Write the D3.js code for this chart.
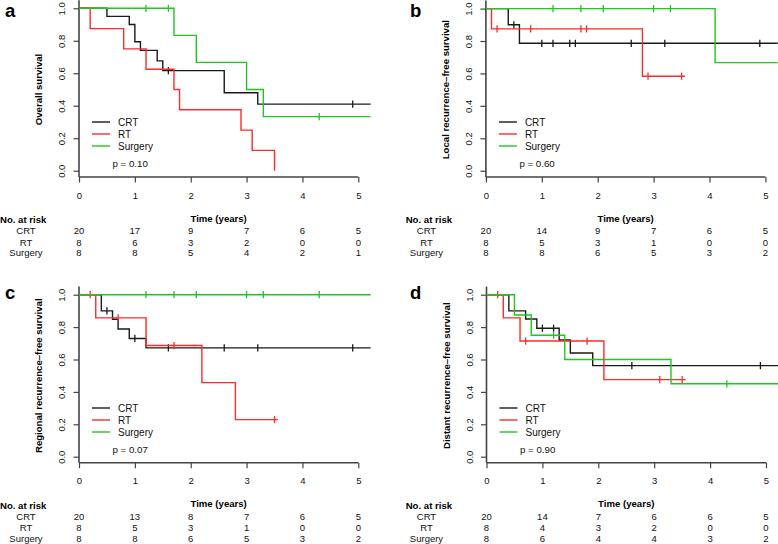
<!DOCTYPE html>
<html><head><meta charset="utf-8">
<script src="https://cdn.jsdelivr.net/npm/d3@7"></script>
<style>body{margin:0;background:#fff} svg{display:block}</style>
</head><body>
<svg id="chart" width="778" height="544"></svg>
<script>
// ---------- data ----------
const timeTicks = [0, 1, 2, 3, 4, 5];
const survTicks = [0, 0.2, 0.4, 0.6, 0.8, 1.0];
const survTickLabels = ["0.0", "0.2", "0.4", "0.6", "0.8", "1.0"];
const groups = ["CRT", "RT", "Surgery"];
const panelLetters = ["a", "b", "c", "d"];
const yTitles = ["Overall survival", "Local recurrence\u2013free survival",
                 "Regional recurrence\u2013free survival", "Distant recurrence\u2013free survival"];
const pLabels = ["p = 0.10", "p = 0.60", "p = 0.07", "p = 0.90"];
const xTitle = "Time (years)";
const riskTitle = "No. at risk";

// Kaplan-Meier curves: steps [time, survival], censor times, last follow-up
const aCRT = { steps: [[0.5,0.95],[0.9,0.9],[1.0,0.794],[1.1,0.741],[1.4,0.676],[1.5,0.616],[2.6,0.48],[3.2,0.41]], censor: [1.6,4.9], end: 5.22 };
const aRT = { steps: [[0.2,0.875],[0.8,0.75],[1.2,0.625],[1.7,0.5],[1.8,0.375],[2.9,0.25],[3.1,0.125],[3.5,0]], censor: [], end: 3.5 };
const aSurgery = { steps: [[1.7,0.833],[2.1,0.667],[3.0,0.5],[3.3,0.333]], censor: [1.2,1.6,4.3], end: 5.22 };

const bCRT = { steps: [[0.4,0.9],[0.6,0.786]], censor: [0.5,1.0,1.2,1.5,1.6,2.6,3.2,4.9], end: 5.22 };
const bRT = { steps: [[0.1,0.875],[2.8,0.583]], censor: [0.2,0.8,1.7,1.8,2.9,3.5], end: 3.56 };
const bSurgery = { steps: [[4.1,0.667]], censor: [1.2,1.7,2.1,3.0,3.3], end: 5.22 };

const cCRT = { steps: [[0.4,0.9],[0.6,0.848],[0.7,0.788],[0.9,0.73],[1.2,0.672]], censor: [0.5,1.0,1.6,2.6,3.2,4.9], end: 5.22 };
const cRT = { steps: [[0.3,0.857],[1.2,0.686],[2.2,0.457],[2.8,0.229]], censor: [0.2,0.7,1.7,3.5], end: 3.56 };
const cSurgery = { steps: [], censor: [1.2,1.7,2.1,3.0,3.3,4.3], end: 5.22 };

const dCRT = { steps: [[0.4,0.9],[0.7,0.85],[0.9,0.793],[1.3,0.72],[1.5,0.64],[1.9,0.562]], censor: [1.0,1.2,2.6,4.9], end: 5.22 };
const dRT = { steps: [[0.3,0.857],[0.6,0.714],[2.1,0.476]], censor: [0.2,0.7,1.8,3.1,3.5], end: 3.56 };
const dSurgery = { steps: [[0.5,0.875],[0.8,0.75],[1.4,0.6],[3.3,0.45]], censor: [1.2,4.3], end: 5.22 };

// numbers at risk at timeTicks
const riskA_CRT = [20,17,9,7,6,5], riskA_RT = [8,6,3,2,0,0], riskA_Surgery = [8,8,5,4,2,1];
const riskB_CRT = [20,14,9,7,6,5], riskB_RT = [8,5,3,1,0,0], riskB_Surgery = [8,8,6,5,3,2];
const riskC_CRT = [20,13,8,7,6,5], riskC_RT = [8,5,3,1,0,0], riskC_Surgery = [8,8,6,5,3,2];
const riskD_CRT = [20,14,7,6,6,5], riskD_RT = [8,4,3,2,0,0], riskD_Surgery = [8,6,4,4,3,2];

// ---------- layout / style ----------
const colors = { CRT: "#1a1a1a", RT: "#ff2a2a", Surgery: "#1ec81e" };
const FONT = "'Liberation Sans', Arial, Helvetica, sans-serif";

const panels = [
  { x0: 79,    x5: 358.3, y0: 170.7, y1: 8.3,   axisY: 177,   rowX: 26,    narX: 0,     letterY: 16.5, curves: [aCRT, aRT, aSurgery], risk: [riskA_CRT, riskA_RT, riskA_Surgery] },
  { x0: 485.9, x5: 765.4, y0: 170.7, y1: 8.6,   axisY: 177,   rowX: 426.5, narX: 405.7, letterY: 16.5, curves: [bCRT, bRT, bSurgery], risk: [riskB_CRT, riskB_RT, riskB_Surgery] },
  { x0: 79,    x5: 358.3, y0: 456.7, y1: 294.7, axisY: 462.7, rowX: 26,    narX: 0,     letterY: 298.5, curves: [cCRT, cRT, cSurgery], risk: [riskC_CRT, riskC_RT, riskC_Surgery] },
  { x0: 486.5, x5: 766,   y0: 456.7, y1: 294.7, axisY: 462.7, rowX: 426.5, narX: 405.7, letterY: 298.5, curves: [dCRT, dRT, dSurgery], risk: [riskD_CRT, riskD_RT, riskD_Surgery] }
];

const svg = d3.select("#chart").style("font-family", FONT);

function survAt(curve, t) {
  let s = 1;
  curve.steps.forEach(([tt, ss]) => { if (tt <= t) s = ss; });
  return s;
}

panels.forEach((p, i) => {
  const x = d3.scaleLinear().domain([0, 5]).range([p.x0, p.x5]);
  const y = d3.scaleLinear().domain([0, 1]).range([p.y0, p.y1]);
  const g = svg.append("g");

  // panel letter
  g.append("text").attr("x", i % 2 === 0 ? 5 : 410).attr("y", p.letterY)
    .attr("font-size", 18.5).attr("font-weight", "bold").text(panelLetters[i]);

  // axes lines
  g.append("line").attr("x1", p.x0).attr("x2", p.x0).attr("y1", y(1.05)).attr("y2", p.axisY)
    .attr("stroke", "#444").attr("stroke-width", 1.6);
  g.append("line").attr("x1", x(0)).attr("x2", x(5)).attr("y1", p.axisY).attr("y2", p.axisY)
    .attr("stroke", "#444").attr("stroke-width", 1.6);

  // x axis ticks and labels
  const xa = g.append("g").attr("transform", `translate(0,${p.axisY})`)
    .call(d3.axisBottom(x).tickValues(timeTicks).tickFormat(d3.format("d")).tickSize(5.5).tickPadding(9.3));
  xa.select(".domain").remove();
  xa.selectAll(".tick line").attr("stroke", "#444").attr("stroke-width", 1.2);
  xa.selectAll(".tick text").attr("font-size", 9.5).attr("font-family", FONT).attr("fill", "#111");

  // y axis ticks and labels
  const ya = g.append("g").attr("transform", `translate(${p.x0},0)`)
    .call(d3.axisLeft(y).tickValues(survTicks).tickFormat((d, k) => survTickLabels[k]).tickSize(5.5));
  ya.select(".domain").remove();
  ya.selectAll(".tick line").attr("stroke", "#444").attr("stroke-width", 1.2);
  ya.selectAll(".tick text").attr("font-size", 9.5).attr("font-family", FONT).attr("fill", "#111")
    .attr("x", null).attr("dy", "0.35em").attr("text-anchor", "middle")
    .attr("transform", "translate(-17,0) rotate(-90)");

  // y title
  g.append("text").attr("transform", `translate(${p.x0 - 40},${(y(0) + y(1)) / 2}) rotate(-90)`)
    .attr("dy", "0.35em").attr("text-anchor", "middle").attr("font-size", 9.6).attr("font-weight", "bold")
    .text(yTitles[i]);

  // curves
  const line = d3.line().x(d => x(d[0])).y(d => y(d[1])).curve(d3.curveStepAfter);
  groups.forEach((gr, k) => {
    const c = p.curves[k];
    const pts = [[0, 1], ...c.steps];
    const last = pts[pts.length - 1];
    if (c.end > last[0]) pts.push([c.end, last[1]]);
    g.append("path").attr("d", line(pts)).attr("fill", "none")
      .attr("stroke", colors[gr]).attr("stroke-width", 1.4);
    c.censor.forEach(t => {
      const s = survAt(c, t);
      g.append("line").attr("x1", x(t)).attr("x2", x(t)).attr("y1", y(s) - 3.6).attr("y2", y(s) + 3.6)
        .attr("stroke", colors[gr]).attr("stroke-width", 1.3);
    });
  });

  // legend
  const legOff = [-48.7, -36.7, -24.7];
  groups.forEach((gr, k) => {
    const ly = p.y0 + legOff[k];
    g.append("line").attr("x1", p.x0 + 13).attr("x2", p.x0 + 31).attr("y1", ly).attr("y2", ly)
      .attr("stroke", colors[gr]).attr("stroke-width", 1.4);
    g.append("text").attr("x", p.x0 + 39).attr("y", ly).attr("dy", "0.35em")
      .attr("font-size", 10).attr("fill", "#111").text(gr);
  });
  g.append("text").attr("x", p.x0 + 33.5).attr("y", p.y0 - 7).attr("dy", "0.35em")
    .attr("font-size", 9.7).attr("fill", "#111").text(pLabels[i]);

  // x title + risk table
  g.append("text").attr("x", x(2.5)).attr("y", p.axisY + 41.3).attr("dy", "0.35em")
    .attr("text-anchor", "middle").attr("font-size", 9.6).attr("font-weight", "bold").text(xTitle);
  g.append("text").attr("x", p.narX).attr("y", p.axisY + 42.8).attr("dy", "0.35em")
    .attr("font-size", 9.6).attr("font-weight", "bold").text(riskTitle);
  const rowOff = [54, 65.2, 76.1];
  groups.forEach((gr, k) => {
    const ry = p.axisY + rowOff[k];
    g.append("text").attr("x", p.rowX).attr("y", ry).attr("dy", "0.35em").attr("text-anchor", "middle")
      .attr("font-size", 9.5).attr("fill", "#111").text(gr);
    g.selectAll(null).data(p.risk[k]).enter().append("text")
      .attr("x", (d, j) => x(timeTicks[j])).attr("y", ry).attr("dy", "0.35em")
      .attr("text-anchor", "middle").attr("font-size", 9.5).attr("fill", "#111").text(d => d);
  });
});
</script>
</body></html>
